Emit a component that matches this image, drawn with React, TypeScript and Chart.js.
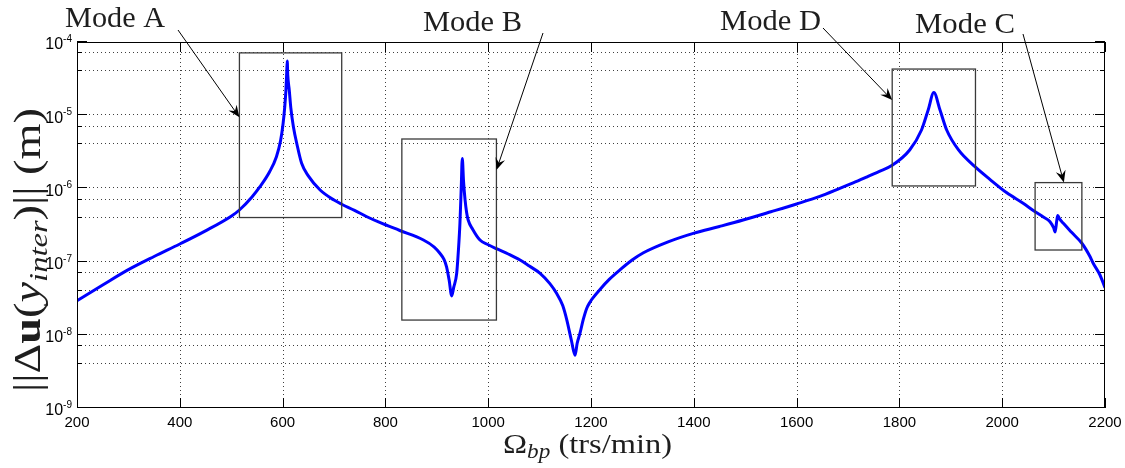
import React, { useEffect, useRef } from 'react';
import { Chart, registerables } from 'chart.js';

Chart.register(...registerables);

// ---- data ----
const omega = [
  200, 250, 300, 350, 400, 450, 500, 516, 540, 556, 575, 588, 596, 601, 604, 606.5, 608, 609, 610, 613,
  616, 621, 628, 637, 650, 673, 700, 715, 740, 764, 790, 828, 874, 895, 906, 914, 919, 924, 929, 933,
  938.7, 942, 945, 947.5, 949.6, 952, 955, 958, 961, 970, 984, 1000, 1016, 1040, 1062, 1080, 1101, 1120, 1133, 1145,
  1153, 1162, 1169, 1173, 1178.6, 1185, 1191.6, 1198, 1205, 1217.5, 1236, 1256, 1280, 1302, 1350, 1399, 1450, 1496, 1550, 1600, 1645, 1684,
  1710, 1736, 1760, 1786, 1820, 1843, 1856, 1867, 1879, 1892, 1915, 1947, 1976, 2009, 2040, 2064, 2080, 2093, 2100,
  2103, 2106, 2108, 2112, 2119, 2135, 2155, 2170, 2177, 2190, 2200,
];
const amplitude = [
  2.92e-8, 4.79e-8, 7.76e-8, 1.175e-7, 1.74e-7, 2.63e-7, 4.17e-7, 5.07e-7, 7.59e-7, 1.054e-6, 1.7e-6, 2.71e-6, 4.47e-6, 7.74e-6, 1.26e-5, 2.21e-5, 3.8e-5, 5.5e-5, 3.55e-5, 2.19e-5,
  1.26e-5, 6.97e-6, 3.98e-6, 2.2e-6, 1.48e-6, 9.5e-7, 6.92e-7, 6.07e-7, 5.01e-7, 4.1e-7, 3.4e-7, 2.66e-7, 1.97e-7, 1.58e-7, 1.3e-7, 1.07e-7, 8.5e-8, 5.6e-8, 3.4e-8, 4.47e-8,
  6.92e-8, 1.41e-7, 3.33e-7, 1.0e-6, 2.57e-6, 1.26e-6, 6.95e-7, 4.68e-7, 3.7e-7, 2.75e-7, 1.97e-7, 1.7e-7, 1.5e-7, 1.26e-7, 1.05e-7, 8.7e-8, 6.92e-8, 5.0e-8, 3.69e-8, 2.51e-8,
  1.59e-8, 8.3e-9, 5.25e-9, 7.6e-9, 1.05e-8, 1.62e-8, 2.29e-8, 2.79e-8, 3.27e-8, 4.17e-8, 5.75e-8, 7.67e-8, 1.05e-7, 1.32e-7, 1.86e-7, 2.43e-7, 3.02e-7, 3.7e-7, 4.79e-7, 6.12e-7, 7.76e-7, 1.0e-6,
  1.19e-6, 1.43e-6, 1.7e-6, 2.07e-6, 3.35e-6, 6.28e-6, 1.18e-5, 2.04e-5, 1.18e-5, 6.28e-6, 3.35e-6, 1.98e-6, 1.33e-6, 8.7e-7, 6.31e-7, 4.81e-7, 4.07e-7, 3.51e-7, 2.9e-7,
  2.53e-7, 3.55e-7, 4.27e-7, 3.8e-7, 3.33e-7, 2.51e-7, 1.78e-7, 1.2e-7, 9.5e-8, 6.61e-8, 4.4e-8,
];

const xMin = 200;
const xMax = 2200;
const xStep = 200;
const yDecadeExponents = [-9, -8, -7, -6, -5, -4];
const yMinorMultipliers = [2, 3, 4, 5, 6, 7, 8, 9];

const modeLabels = ['Mode A', 'Mode B', 'Mode D', 'Mode C'];
const modeBoxOmegaLo = [516, 832, 1786, 2064];
const modeBoxOmegaHi = [715, 1016, 1948, 2155];
const modeBoxAmpLo = [4.0e-7, 1.59e-8, 1.08e-6, 1.44e-7];
const modeBoxAmpHi = [7.1e-5, 4.73e-6, 4.27e-5, 1.2e-6];
const arrowTipOmega = [516, 1016, 1786, 2120];
const arrowTipAmp = [9.35e-6, 1.78e-6, 1.61e-5, 1.2e-6];

// ---- layout of annotation texts (pixels) ----
const labelLayout = [
  { x: 65, base: 27, w: 100, tailX: 178, tailY: 30 },
  { x: 423, base: 31, w: 99, tailX: 543, tailY: 33 },
  { x: 720, base: 30, w: 101, tailX: 823, tailY: 28 },
  { x: 915, base: 33, w: 100, tailX: 1023, tailY: 34 },
];

const SERIF = '"Liberation Serif", "Times New Roman", serif';
const SANS = '"Liberation Sans", Arial, Helvetica, sans-serif';

type Seg = { t: string; font: string; dy?: number };

function drawRich(ctx: CanvasRenderingContext2D, segs: Seg[], x: number, y: number, targetWidth: number, align: 'left' | 'center') {
  const widths = segs.map((s) => {
    ctx.font = s.font;
    return ctx.measureText(s.t).width;
  });
  const total = widths.reduce((a, b) => a + b, 0);
  const sx = targetWidth / total;
  ctx.save();
  ctx.translate(x, y);
  ctx.scale(sx, 1);
  ctx.textAlign = 'left';
  ctx.textBaseline = 'alphabetic';
  let cx = align === 'center' ? -total / 2 : 0;
  segs.forEach((s, i) => {
    ctx.font = s.font;
    ctx.fillText(s.t, cx, s.dy || 0);
    cx += widths[i];
  });
  ctx.restore();
}

const matlabPlugin = {
  id: 'matlabStyle',
  beforeDatasetsDraw(chart: any) {
    const { ctx, chartArea: a, scales } = chart;
    const xs = scales.x;
    const ys = scales.y;
    ctx.save();
    ctx.strokeStyle = 'rgba(0,0,0,0.75)';
    ctx.lineWidth = 1;
    ctx.setLineDash([1, 3]);
    for (const t of xs.ticks) {
      if (t.value <= xMin || t.value >= xMax) continue;
      const px = Math.round(xs.getPixelForValue(t.value)) + 0.5;
      ctx.beginPath();
      ctx.moveTo(px, a.top);
      ctx.lineTo(px, a.bottom);
      ctx.stroke();
    }
    for (const t of ys.ticks) {
      const py = Math.round(ys.getPixelForValue(t.value)) - 0.5;
      if (py <= a.top + 1 || py >= a.bottom - 1) continue;
      ctx.beginPath();
      ctx.moveTo(a.left, py);
      ctx.lineTo(a.right, py);
      ctx.stroke();
    }
    ctx.restore();
  },
  afterDatasetsDraw(chart: any) {
    const { ctx, chartArea: a, scales } = chart;
    const xs = scales.x;
    const ys = scales.y;
    ctx.save();

    // mode boxes
    ctx.strokeStyle = '#3a3a3a';
    ctx.lineWidth = 1.3;
    ctx.setLineDash([]);
    modeLabels.forEach((_, i) => {
      const x0 = xs.getPixelForValue(modeBoxOmegaLo[i]);
      const x1 = xs.getPixelForValue(modeBoxOmegaHi[i]);
      const y0 = ys.getPixelForValue(modeBoxAmpHi[i]);
      const y1 = ys.getPixelForValue(modeBoxAmpLo[i]);
      ctx.strokeRect(x0, y0, x1 - x0, y1 - y0);
    });

    // axes box
    ctx.strokeStyle = '#000';
    ctx.lineWidth = 1;
    ctx.strokeRect(a.left + 0.5, a.top + 0.5, a.right - a.left - 1, a.bottom - a.top - 1);

    // tick marks (inside)
    ctx.beginPath();
    for (const t of xs.ticks) {
      const px = Math.round(xs.getPixelForValue(t.value)) + 0.5;
      ctx.moveTo(px, a.bottom);
      ctx.lineTo(px, a.bottom - 10);
      ctx.moveTo(px, a.top);
      ctx.lineTo(px, a.top + 10);
    }
    for (const t of ys.ticks) {
      const py = Math.round(ys.getPixelForValue(t.value)) - 0.5;
      const len = t.major ? 10 : 5;
      ctx.moveTo(a.left, py);
      ctx.lineTo(a.left + len, py);
      ctx.moveTo(a.right, py);
      ctx.lineTo(a.right - len, py);
    }
    ctx.stroke();

    // tick labels
    ctx.fillStyle = '#000';
    ctx.font = `15px ${SANS}`;
    ctx.textAlign = 'center';
    ctx.textBaseline = 'middle';
    for (const t of xs.ticks) {
      ctx.fillText(String(t.value), xs.getPixelForValue(t.value), a.bottom + 15);
    }
    for (const t of ys.ticks) {
      if (!t.major) continue;
      const e = Math.round(Math.log10(t.value));
      const py = ys.getPixelForValue(t.value);
      const expStr = String(e);
      ctx.font = `10px ${SANS}`;
      const ew = ctx.measureText(expStr).width;
      ctx.font = `16px ${SANS}`;
      const bw = ctx.measureText('10').width;
      const right = a.left - 5;
      ctx.textAlign = 'left';
      ctx.textBaseline = 'middle';
      ctx.fillText('10', right - ew - bw, py + 3);
      ctx.font = `10px ${SANS}`;
      ctx.textBaseline = 'alphabetic';
      ctx.fillText(expStr, right - ew, py);
    }

    // annotations: labels + arrows
    modeLabels.forEach((lab, i) => {
      const L = labelLayout[i];
      ctx.fillStyle = '#1e1e1e';
      drawRich(ctx, [{ t: lab, font: `29px ${SERIF}` }], L.x, L.base, L.w, 'left');
      const tx = xs.getPixelForValue(arrowTipOmega[i]);
      const ty = ys.getPixelForValue(arrowTipAmp[i]);
      const dx = tx - L.tailX;
      const dy = ty - L.tailY;
      const len = Math.hypot(dx, dy);
      const ux = dx / len;
      const uy = dy / len;
      const nx = -uy;
      const ny = ux;
      const HL = 12;
      const HW = 5;
      ctx.strokeStyle = '#000';
      ctx.lineWidth = 1;
      ctx.beginPath();
      ctx.moveTo(L.tailX, L.tailY);
      ctx.lineTo(tx - ux * HL * 0.6, ty - uy * HL * 0.6);
      ctx.stroke();
      ctx.fillStyle = '#000';
      ctx.beginPath();
      ctx.moveTo(tx, ty);
      ctx.lineTo(tx - ux * HL + nx * HW, ty - uy * HL + ny * HW);
      ctx.lineTo(tx - ux * HL * 0.65, ty - uy * HL * 0.65);
      ctx.lineTo(tx - ux * HL - nx * HW, ty - uy * HL - ny * HW);
      ctx.closePath();
      ctx.fill();
    });

    // axis titles
    ctx.fillStyle = '#1e1e1e';
    const S = 37;
    ctx.save();
    ctx.translate(40, 250);
    ctx.rotate(-Math.PI / 2);
    drawRich(
      ctx,
      [
        { t: '||', font: `${S}px ${SERIF}` },
        { t: 'Δ', font: `${S}px ${SERIF}` },
        { t: 'u', font: `bold ${S}px ${SERIF}` },
        { t: '(', font: `${S}px ${SERIF}` },
        { t: 'y', font: `italic ${S}px ${SERIF}` },
        { t: 'inter', font: `italic ${Math.round(S * 0.7)}px ${SERIF}`, dy: S * 0.18 },
        { t: ')', font: `${S}px ${SERIF}` },
        { t: '||', font: `${S}px ${SERIF}` },
        { t: ' (m)', font: `${S}px ${SERIF}` },
      ],
      0,
      0,
      284,
      'center'
    );
    ctx.restore();

    const XS = 28;
    drawRich(
      ctx,
      [
        { t: 'Ω', font: `${XS}px ${SERIF}` },
        { t: 'bp', font: `italic ${Math.round(XS * 0.7)}px ${SERIF}`, dy: XS * 0.18 },
        { t: ' (trs/min)', font: `${XS}px ${SERIF}` },
      ],
      587.5,
      453,
      169,
      'center'
    );

    ctx.restore();
  },
};

export default function App() {
  const canvasRef = useRef<HTMLCanvasElement | null>(null);

  useEffect(() => {
    const canvas = canvasRef.current;
    if (!canvas) return;
    const chart = new Chart(canvas, {
      type: 'line',
      data: {
        datasets: [
          {
            label: 'response',
            data: omega.map((o, i) => ({ x: o, y: amplitude[i] })),
            borderColor: '#0000ff',
            borderWidth: 3,
            pointRadius: 0,
            fill: false,
            cubicInterpolationMode: 'monotone',
            borderJoinStyle: 'round',
          },
        ],
      },
      options: {
        animation: false,
        responsive: false,
        devicePixelRatio: 1,
        layout: { padding: { left: 77, top: 42, right: 20, bottom: 60 } },
        plugins: { legend: { display: false }, tooltip: { enabled: false } },
        scales: {
          x: {
            type: 'linear',
            display: false,
            min: xMin,
            max: xMax,
            ticks: { stepSize: xStep },
          },
          y: {
            type: 'logarithmic',
            display: false,
            min: Number(`1e${yDecadeExponents[0]}`),
            max: Number(`1e${yDecadeExponents[yDecadeExponents.length - 1]}`),
            afterBuildTicks: (scale: any) => {
              const ticks: any[] = [];
              yDecadeExponents.forEach((e, i) => {
                ticks.push({ value: Number(`1e${e}`), major: true });
                if (i < yDecadeExponents.length - 1) {
                  yMinorMultipliers.forEach((m) => ticks.push({ value: Number(`${m}e${e}`), major: false }));
                }
              });
              scale.ticks = ticks;
            },
          },
        },
      },
      plugins: [matlabPlugin],
    } as any);
    return () => chart.destroy();
  }, []);

  return (
    <div style={{ position: 'fixed', left: 0, top: 0, width: 1125, height: 468, background: '#fff' }}>
      <canvas ref={canvasRef} width={1125} height={468} style={{ display: 'block' }} />
    </div>
  );
}
